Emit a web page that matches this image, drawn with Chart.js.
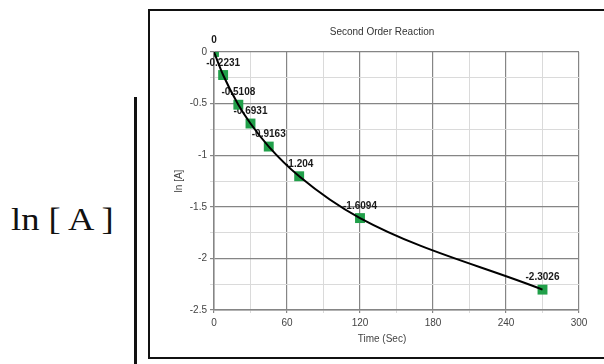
<!DOCTYPE html>
<html>
<head>
<meta charset="utf-8">
<script src="https://cdn.jsdelivr.net/npm/chart.js@4"></script>
<style>
  html, body { margin: 0; padding: 0; background: #fff; }
  body { width: 604px; height: 364px; position: relative; overflow: hidden; }
  .sideLabel {
    position: absolute; left: 11px; top: 202px;
    font-family: "Liberation Serif", "Times New Roman", serif;
    font-size: 31px; color: #111; white-space: pre;
    transform: scaleX(1.18); transform-origin: left top;
  }
  .sideRule { position: absolute; left: 134px; top: 97px; width: 3px; height: 270px; background: #111; }
  .frame {
    position: absolute; left: 148px; top: 9px; width: 470px; height: 346px;
    border-left: 2px solid #111; border-top: 2px solid #111; border-bottom: 2px solid #111;
  }
  #chart { position: absolute; left: 150px; top: 11px; }
</style>
</head>
<body>
<div class="sideLabel">ln [ A ]</div>
<div class="sideRule"></div>
<div class="frame"></div>
<canvas id="chart" width="454" height="344"></canvas>
<script>
const timeSec = [0, 7.5, 20, 30, 45, 70, 120, 270];
const lnA = [0, -0.2231, -0.5108, -0.6931, -0.9163, -1.204, -1.6094, -2.3026];
const pointLabels = ["0", "-0.2231", "-0.5108", "-0.6931", "-0.9163", "-1.204", "-1.6094", "-2.3026"];
const xTickLabels = [0, 60, 120, 180, 240, 300];
const yTickLabels = [0, -0.5, -1, -1.5, -2, -2.5];

const points = timeSec.map((t, i) => ({ x: t, y: lnA[i] }));

const isMajorX = (v) => xTickLabels.includes(v);
const isMajorY = (v) => yTickLabels.some((t) => Math.abs(t - v) < 1e-6);

// labels go under the curve, like in the source picture
const textLayer = {
  id: "textLayer",
  beforeDatasetsDraw(chart) {
    const { ctx } = chart;
    const meta = chart.getDatasetMeta(1);
    ctx.save();
    ctx.fillStyle = "#1a1a1a";
    ctx.font = "bold 10px 'Liberation Sans', Arial, sans-serif";
    ctx.textAlign = "center";
    ctx.textBaseline = "middle";
    meta.data.forEach((el, i) => {
      ctx.fillText(pointLabels[i], el.x, el.y - 12);
    });
    ctx.restore();
  },
  afterDraw(chart) {
    const { ctx } = chart;
    ctx.save();
    ctx.fillStyle = "#333";
    ctx.textAlign = "center";
    ctx.textBaseline = "middle";
    ctx.font = "10px 'Liberation Sans', Arial, sans-serif";
    ctx.fillText("Second Order Reaction", 232, 21);
    ctx.fillStyle = "#444";
    ctx.fillText("Time (Sec)", 232, 328);
    ctx.translate(29, 170);
    ctx.rotate(-Math.PI / 2);
    ctx.fillText("ln [A]", 0, 0);
    ctx.restore();
  },
};

new Chart(document.getElementById("chart"), {
  type: "scatter",
  data: {
    datasets: [
      {
        data: points,
        showLine: true,
        borderColor: "#000",
        borderWidth: 2,
        cubicInterpolationMode: "monotone",
        pointRadius: 0,
        order: 1,
      },
      {
        data: points,
        showLine: false,
        pointStyle: "rect",
        pointRadius: 7,
        backgroundColor: "#21a04a",
        borderColor: "#21a04a",
        borderWidth: 0,
        order: 2,
      },
    ],
  },
  options: {
    responsive: false,
    animation: false,
    layout: { padding: { left: 0, right: 25, top: 41, bottom: 0 } },
    plugins: { legend: { display: false }, title: { display: false }, tooltip: { enabled: false } },
    scales: {
      x: {
        type: "linear",
        min: 0,
        max: 300,
        afterFit: (s) => { s.height = 45; },
        ticks: {
          stepSize: 30,
          autoSkip: false,
          maxRotation: 0,
          padding: 4,
          color: "#444",
          font: { family: "'Liberation Sans', Arial, sans-serif", size: 10 },
          callback: (v) => (isMajorX(v) ? String(v) : ""),
        },
        grid: {
          drawTicks: true,
          tickLength: 3,
          lineWidth: (c) => (c.tick && isMajorX(c.tick.value) ? 1.2 : 1),
          color: (c) => (c.tick && isMajorX(c.tick.value) ? "#858585" : "#dadada"),
        },
        border: { color: "#858585", width: 1.5 },
      },
      y: {
        type: "linear",
        min: -2.5,
        max: 0,
        afterFit: (s) => { s.width = 64; },
        ticks: {
          stepSize: 0.25,
          autoSkip: false,
          padding: 3,
          color: "#444",
          font: { family: "'Liberation Sans', Arial, sans-serif", size: 10 },
          callback: (v) => (isMajorY(v) ? String(Math.round(v * 10) / 10) : ""),
        },
        grid: {
          drawTicks: true,
          tickLength: 4,
          lineWidth: (c) => (c.tick && isMajorY(c.tick.value) ? 1.2 : 1),
          color: (c) => (c.tick && isMajorY(c.tick.value) ? "#858585" : "#dadada"),
        },
        border: { color: "#858585", width: 1.5 },
      },
    },
  },
  plugins: [textLayer],
});
</script>
</body>
</html>
